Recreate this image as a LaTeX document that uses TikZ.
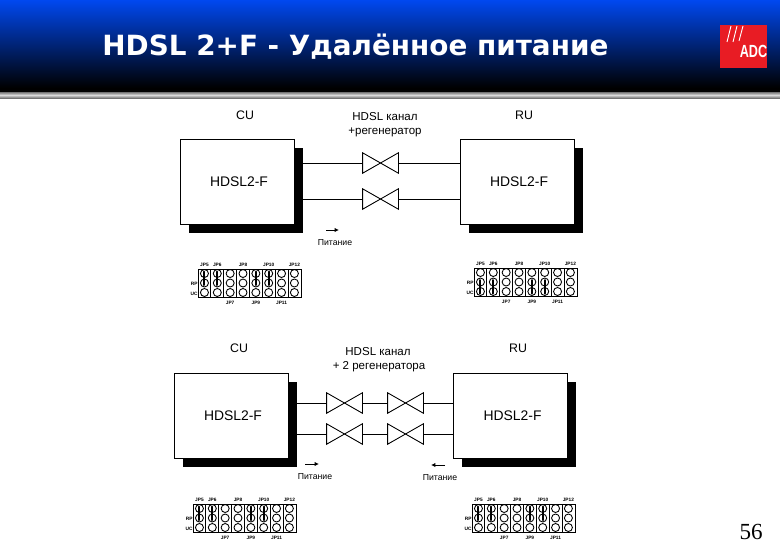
\documentclass[tikz,border=0pt]{standalone}
\usepackage{fontspec}
\setmainfont{Liberation Sans}
\newfontfamily\titlefont{DejaVu Sans}
\newfontfamily\pagefont{Liberation Serif}
\usetikzlibrary{arrows.meta,shadows}
\definecolor{hdrblue}{RGB}{0,72,240}
\definecolor{logored}{RGB}{232,28,36}

% jumper block: name, x, y of top left corner, first and second row of the links
\newcommand{\jumperblock}[5]{
  \node[jblock] (#1) at (#2,#3) {};
  \foreach \c in {1,...,7}
    \draw (#2+\c*12.85,#3) -- (#2+\c*12.85,#3+28);
  \foreach \c in {1,...,8}
    \foreach \r/\ry in {a/4.5,b/14,c/23.5}
      \node[jpin] (#1\r\c) at (#2+\c*12.85-6.4,#3+\ry) {};
  \foreach \c in {1,2,5,6}
    \draw[jlink] (#1#4\c.center) -- (#1#5\c.center);
  \foreach \c/\t in {1/JP5,2/JP6,4/JP8,6/JP10,8/JP12}
    \node[jlbl] (#1t\c) at (#2+\c*12.85-6.4,#3-4) {\t};
  \foreach \c/\t in {3/JP7,5/JP9,7/JP11}
    \node[jlbl] (#1u\c) at (#2+\c*12.85-6.4,#3+34) {\t};
  \node[jlbl,anchor=east] (#1rp) at (#2,#3+15) {RP};
  \node[jlbl,anchor=east] (#1uc) at (#2,#3+25) {UC};
}
% regenerator: name, x, y of centre
\newcommand{\regen}[3]{
  \node[rgn] (#1) at (#2,#3) {};
  \draw (#1.north west) -- (#1.south east) -- (#1.north east) -- (#1.south west) -- cycle;
}

\begin{document}
\begin{tikzpicture}[
  x=0.25mm, y=-0.25mm, line width=0.22mm,
  unit/.style={draw, fill=white, minimum width=28.5mm, minimum height=21.25mm, inner sep=0pt,
    font=\fontsize{9.9}{11}\selectfont,
    drop shadow={shadow xshift=2.2mm, shadow yshift=-2.2mm, fill=black, opacity=1}},
  rgn/.style={minimum width=8.75mm, minimum height=4.9mm, inner sep=0pt},
  jblock/.style={draw, anchor=north west, minimum width=25.7mm, minimum height=7mm, inner sep=0pt},
  jpin/.style={draw, circle, minimum size=2mm, inner sep=0pt},
  jlink/.style={line width=0.5mm, line cap=round, shorten >=-0.5mm, shorten <=-0.5mm},
  jlbl/.style={font=\fontsize{3.4}{4}\selectfont\bfseries, inner sep=0pt},
  lbl/.style={font=\fontsize{8.2}{10}\selectfont, inner sep=0pt},
  side/.style={font=\fontsize{8.8}{10}\selectfont, inner sep=0pt},
  pow/.style={font=\fontsize{6.2}{8}\selectfont, inner sep=0pt},
  ar/.style={-{Latex[length=1.1mm,width=1.1mm]}},
]
\useasboundingbox (0,0) rectangle (780,540);

% ---------- header ----------
\shade[top color=hdrblue, bottom color=black] (0,0) rectangle (780,88);
\fill[black] (0,88) rectangle (780,92);
\shade[top color=black!55, bottom color=black!55, middle color=black!15] (0,92) rectangle (780,98);
\node[anchor=west, inner sep=0pt, text=white] (title) at (102,47)
  {\titlefont\fontsize{19.8}{22}\selectfont\bfseries HDSL 2+F - Удалённое питание};
\node[draw=none, fill=logored, anchor=north west, minimum width=11.75mm, minimum height=10.75mm, inner sep=0pt] (logo) at (720,25) {};
\draw[white] (731,26) -- (727,42) (737,26) -- (733,42) (743,26) -- (739,41);
\node[text=white, anchor=south east, inner sep=0pt, transform shape, xscale=.72] (adc) at (767.5,58.5)
  {\fontsize{12.5}{13}\selectfont\bfseries ADC};
\node[anchor=south east, inner sep=0pt] (page) at (763,540)
  {\pagefont\fontsize{16.4}{18}\selectfont 56};

% ---------- one regenerator ----------
\node[side] (cu1) at (245,115) {CU};
\node[side] (ru1) at (524,115) {RU};
\node[lbl] (ch1) at (385,117) {HDSL канал};
\node[lbl] (rg1) at (385,132) {+регенератор};
\node[unit] (cpe1) at (237,181.5) {\hspace{1mm}HDSL2-F};
\node[unit] (rte1) at (517,181.5) {\hspace{1mm}HDSL2-F};
\regen{ra}{380.5}{163}
\regen{rb}{380.5}{199}
\draw (cpe1.east |- ra.west) -- (ra.west);
\draw (ra.east) -- (rte1.west |- ra.east);
\draw (cpe1.east |- rb.west) -- (rb.west);
\draw (rb.east) -- (rte1.west |- rb.east);
\coordinate (pa1) at (326,230);
\coordinate (pa2) at (339,230);
\draw[ar] (pa1) -- (pa2);
\node[pow] (pw1) at (335,243) {Питание};
\jumperblock{ja}{198}{269}{a}{b}
\jumperblock{jb}{474}{268}{b}{c}

% ---------- two regenerators ----------
\node[side] (cu2) at (239,348) {CU};
\node[side] (ru2) at (518,348) {RU};
\node[lbl] (ch2) at (378,352) {HDSL канал};
\node[lbl] (rg2) at (379,367) {+ 2 регенератора};
\node[unit] (cpe2) at (231,416) {\hspace{1mm}HDSL2-F};
\node[unit] (rte2) at (510.5,416) {\hspace{1mm}HDSL2-F};
\regen{rc}{344.5}{403}
\regen{rd}{405.5}{403}
\regen{re}{344.5}{434}
\regen{rf}{405.5}{434}
\draw (cpe2.east |- rc.west) -- (rc.west);
\draw (rc.east) -- (rd.west);
\draw (rd.east) -- (rte2.west |- rd.east);
\draw (cpe2.east |- re.west) -- (re.west);
\draw (re.east) -- (rf.west);
\draw (rf.east) -- (rte2.west |- rf.east);
\coordinate (pb1) at (305,464);
\coordinate (pb2) at (319,464);
\draw[ar] (pb1) -- (pb2);
\coordinate (pc1) at (445,465);
\coordinate (pc2) at (431,465);
\draw[ar] (pc1) -- (pc2);
\node[pow] (pw2) at (315,477) {Питание};
\node[pow] (pw3) at (440,478) {Питание};
\jumperblock{jc}{193}{504}{a}{b}
\jumperblock{jd}{472}{504}{a}{b}
\end{tikzpicture}
\end{document}
